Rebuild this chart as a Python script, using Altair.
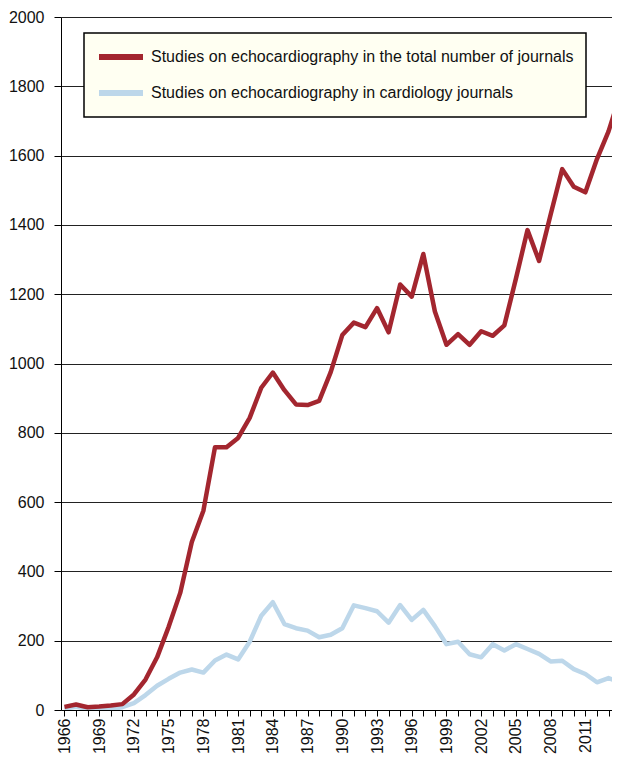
import altair as alt
import pandas as pd

years = list(range(1966, 2015))
total_journals = [9, 16, 8, 10, 13, 17, 45, 88, 152, 240,
                  338, 485, 575, 758, 758, 785, 843, 930, 974, 923,
                  882, 880, 892, 975, 1082, 1118, 1105, 1160, 1090, 1228,
                  1193, 1316, 1150, 1054, 1085, 1054, 1093, 1080, 1110, 1245,
                  1385, 1296, 1430, 1561, 1510, 1494, 1590, 1670, 1775]
cardiology_journals = [4, 9, 3, 3, 3, 8, 20, 43, 70, 90,
                       108, 117, 108, 143, 160, 146, 197, 272, 311, 248,
                       236, 229, 210, 217, 236, 302, 294, 285, 252, 303,
                       260, 289, 242, 190, 197, 161, 152, 190, 172, 190,
                       176, 162, 140, 142, 118, 104, 80, 92, 81]

s_total = "Studies on echocardiography in the total number of journals"
s_card = "Studies on echocardiography in cardiology journals"
series_names = [s_total, s_card]
series_colors = ["#A3262F", "#BDD7EA"]
y_ticks = list(range(0, 2001, 200))

df = pd.concat([
    pd.DataFrame({"year": years, "value": total_journals, "series": s_total}),
    pd.DataFrame({"year": years, "value": cardiology_journals, "series": s_card}),
])

FONT = "Liberation Sans"

x_enc = alt.X("year:Q",
              scale=alt.Scale(domain=[1965.7, 2013.3], nice=False, zero=False),
              axis=alt.Axis(values=years[:-1], format="d",
                            labelExpr="(datum.value - 1966) % 3 == 0 ? datum.label : ''",
                            labelAngle=270, labelAlign="right", labelBaseline="middle",
                            labelOverlap=False, tickSize=6, labelPadding=2,
                            grid=False, title=None, domainColor="#000",
                            tickColor="#000", labelFontSize=16, labelColor="#111",
                            labelFont=FONT))
y_enc = alt.Y("value:Q",
              scale=alt.Scale(domain=[0, 2000], nice=False),
              axis=alt.Axis(values=y_ticks, format="d", tickSize=7, labelPadding=10,
                            grid=True, gridColor="#222", gridWidth=1.2,
                            title=None, domainColor="#000", tickColor="#000",
                            labelFontSize=16, labelColor="#111", labelFont=FONT))
color_enc = alt.Color("series:N",
                      scale=alt.Scale(domain=series_names, range=series_colors),
                      legend=alt.Legend(orient="none", legendX=23, legendY=16,
                                        title=None, fillColor="#FFFFF2",
                                        strokeColor="#000", padding=12,
                                        symbolType="stroke", symbolSize=1936,
                                        symbolStrokeWidth=6, clipHeight=24,
                                        rowPadding=12, labelOffset=5,
                                        labelFontSize=16, labelFont=FONT,
                                        labelColor="#111", labelLimit=600))

blue = alt.Chart(df).transform_filter(alt.datum.series == s_card).mark_line(
    strokeWidth=4.5, strokeJoin="round", clip=True).encode(x=x_enc, y=y_enc, color=color_enc)
red = alt.Chart(df).transform_filter(alt.datum.series == s_total).mark_line(
    strokeWidth=4.5, strokeJoin="round", clip=True).encode(x=x_enc, y=y_enc, color=color_enc)

chart = alt.layer(blue, red).properties(
    width=551, height=693,
    autosize=alt.AutoSizeParams(type="none"),
    padding={"left": 53, "top": 9, "right": 0, "bottom": 45},
).configure_view(stroke=None).configure_legend(strokeWidth=1.5)

chart.save("out.html", embed_options={"renderer": "svg", "actions": False})
